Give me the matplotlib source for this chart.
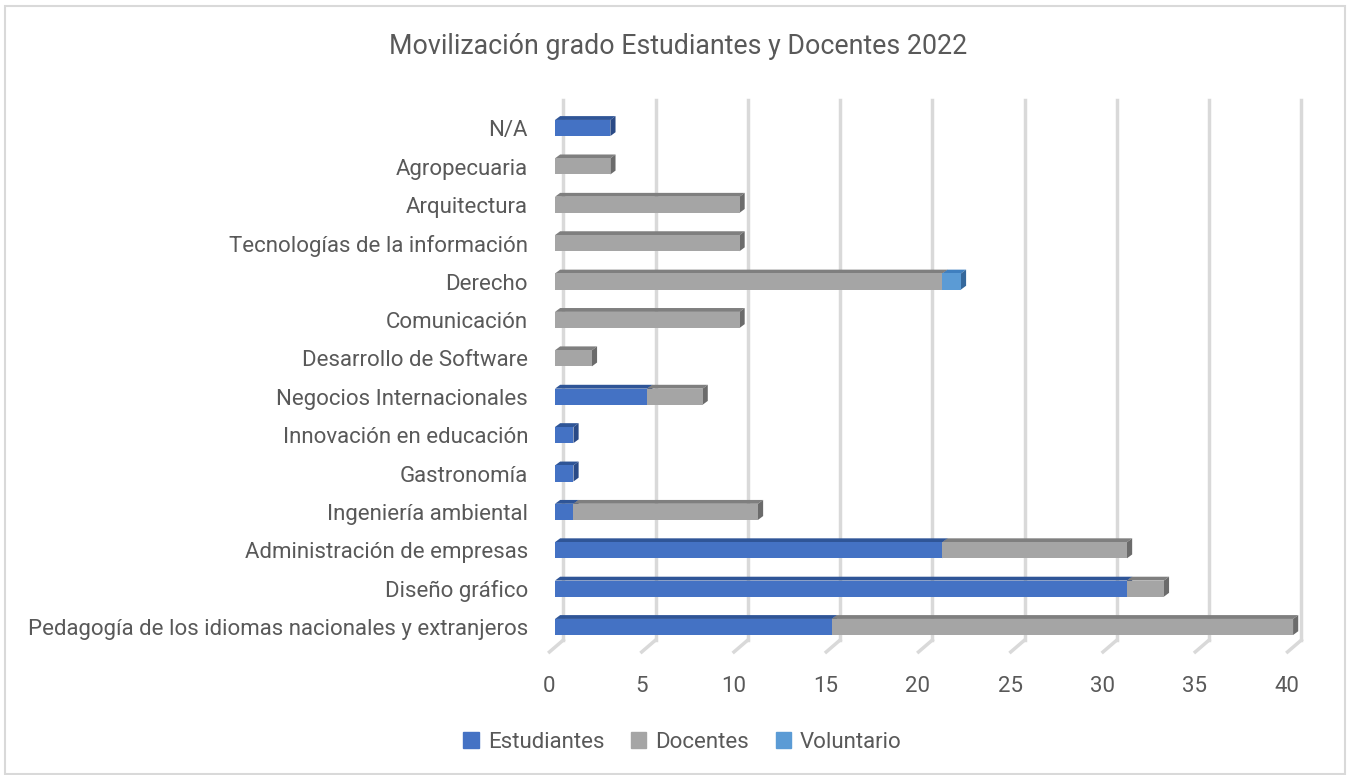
import matplotlib
matplotlib.use('Agg')
import matplotlib.pyplot as plt
from matplotlib.patches import Polygon, Rectangle, Patch

categories = ['Pedagogía de los idiomas nacionales y extranjeros', 'Diseño gráfico',
              'Administración de empresas', 'Ingeniería ambiental', 'Gastronomía',
              'Innovación en educación', 'Negocios Internacionales', 'Desarrollo de Software',
              'Comunicación', 'Derecho', 'Tecnologías de la información', 'Arquitectura',
              'Agropecuaria', 'N/A']
estudiantes = [15, 31, 21, 1, 1, 1, 5, 0, 0, 0, 0, 0, 0, 3]
docentes = [25, 2, 10, 10, 0, 0, 3, 2, 10, 21, 10, 10, 3, 0]
voluntario = [0, 0, 0, 0, 0, 0, 0, 0, 0, 1, 0, 0, 0, 0]
ticks = [0, 5, 10, 15, 20, 25, 30, 35, 40]

series = [('Estudiantes', estudiantes, '#4472C4', '#2F5597', '#2A4A86'),
          ('Docentes', docentes, '#A5A5A5', '#7F7F7F', '#6B6B6B'),
          ('Voluntario', voluntario, '#5B9BD5', '#3F7FBF', '#35689C')]

plt.rcParams['font.family'] = ['Roboto', 'DejaVu Sans']
txt = '#595959'

fig = plt.figure(figsize=(13.49, 7.75), dpi=100)
ax = fig.add_axes([540/1349, 75/775, 780/1349, 610/775])
ax.set_xlim(-0.813, 41.46)
ax.set_ylim(-1.902, 13.99)
ax.axis('off')

# chart border
fig.patches.append(Rectangle((5/1349, 1/775), 1340/1349, 768/775, transform=fig.transFigure,
                             fill=False, ec='#d9d9d9', lw=1.5))

# gridlines on back wall + floor ticks
gdx = 0.45
for t in ticks:
    ax.plot([t + gdx, t + gdx], [-0.34, 13.74], color='#d9d9d9', lw=2.5, zorder=1)
    ax.plot([t + gdx, t - 0.3], [-0.34, -0.65], color='#d9d9d9', lw=2.5, zorder=1)
    ax.text(t - 0.33, -1.55, str(t), ha='center', va='center', fontsize=16, color=txt)

h = 0.42
dx, dy = 0.28, 0.1
for i, cat in enumerate(categories):
    left = 0
    for name, vals, c, ctop, cside in series:
        w = vals[i]
        if w == 0:
            continue
        r = left + w
        yb, yt = i - h / 2, i + h / 2
        ax.add_patch(Polygon([(left, yt), (left + dx, yt + dy), (r + dx, yt + dy), (r, yt)],
                             closed=True, fc=ctop, ec='none', zorder=3))
        ax.add_patch(Polygon([(r, yb), (r + dx, yb + dy), (r + dx, yt + dy), (r, yt)],
                             closed=True, fc=cside, ec='none', zorder=3))
        ax.barh(i, w, left=left, height=h, color=c, zorder=3)
        left = r
    ax.text(-1.46, i - 0.07, cat, ha='right', va='center', fontsize=16, color=txt, clip_on=False)

fig.text(0.503, 1 - 46/775, 'Movilización grado Estudiantes y Docentes 2022',
         ha='center', va='center', fontsize=19.3, color=txt)

handles = [Patch(color=s[2], label=s[0]) for s in series]
fig.legend(handles=handles, loc='center', bbox_to_anchor=(0.506, 1 - 742/775), ncol=3,
           frameon=False, fontsize=16, handlelength=0.7, handleheight=0.7,
           handletextpad=0.4, columnspacing=1.2, labelcolor=txt)

fig.savefig('out.png', dpi=100)
